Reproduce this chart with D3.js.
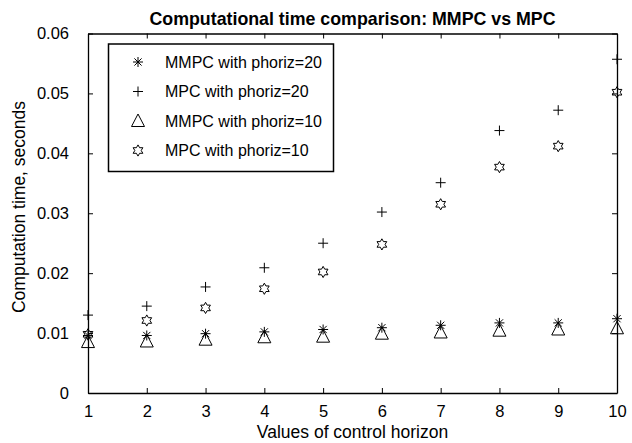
<!DOCTYPE html>
<html>
<head>
<meta charset="utf-8">
<script src="https://cdn.jsdelivr.net/npm/d3@7"></script>
<style>
  html, body { margin: 0; padding: 0; background: #fff; }
  svg { display: block; font-family: "Liberation Sans", Arial, Helvetica, sans-serif; }
</style>
</head>
<body>
<svg id="chart" width="632" height="443"></svg>
<script>
// ---- data ----
const horizons = [1, 2, 3, 4, 5, 6, 7, 8, 9, 10];
const mmpc20 = [0.0096, 0.0096, 0.0099, 0.0102, 0.0106, 0.0109, 0.0113, 0.0117, 0.0117, 0.0124];
const mpc20  = [0.0130, 0.0145, 0.0177, 0.0209, 0.0250, 0.0302, 0.0351, 0.0438, 0.0472, 0.0557];
const mmpc10 = [0.0085, 0.0086, 0.0089, 0.0093, 0.0094, 0.0099, 0.0101, 0.0104, 0.0106, 0.0108];
const mpc10  = [0.0098, 0.0121, 0.0142, 0.0174, 0.0202, 0.0248, 0.0315, 0.0377, 0.0412, 0.0502];
const yTicks = [0, 0.01, 0.02, 0.03, 0.04, 0.05, 0.06];
const yTickLabels = ["0", "0.01", "0.02", "0.03", "0.04", "0.05", "0.06"];
const seriesNames = ["MMPC with phoriz=20", "MPC with phoriz=20", "MMPC with phoriz=10", "MPC with phoriz=10"];
const seriesMarkers = ["asterisk", "plus", "triangle", "hexagram"];
const titleText = "Computational time comparison: MMPC vs MPC";
const xLabelText = "Values of control horizon";
const yLabelText = "Computation time, seconds";

// ---- layout ----
const svg = d3.select("#chart");
const L = 88, R = 617, T = 33.5, B = 393;
const x = d3.scaleLinear().domain([1, 10]).range([L, R]);
const y = d3.scaleLinear().domain([0, 0.06]).range([B, T]);
const tickLen = 5;

// marker paths
function markerPath(type) {
  const p = d3.path();
  if (type === "plus") {
    p.moveTo(-5, 0); p.lineTo(5, 0); p.moveTo(0, -5); p.lineTo(0, 5);
  } else if (type === "asterisk") {
    const r = 5, d = 3.6;
    p.moveTo(-r, 0); p.lineTo(r, 0); p.moveTo(0, -r); p.lineTo(0, r);
    p.moveTo(-d, -d); p.lineTo(d, d); p.moveTo(-d, d); p.lineTo(d, -d);
  } else if (type === "triangle") {
    p.moveTo(0, -7); p.lineTo(6.5, 5.5); p.lineTo(-6.5, 5.5); p.closePath();
  } else if (type === "hexagram") {
    const ro = 5.6, ri = 3.2;
    for (let i = 0; i < 12; i++) {
      const a = -Math.PI / 2 + i * Math.PI / 6;
      const r = i % 2 === 0 ? ro : ri;
      const px = r * Math.cos(a), py = r * Math.sin(a);
      if (i === 0) p.moveTo(px, py); else p.lineTo(px, py);
    }
    p.closePath();
  }
  return p.toString();
}

// ---- axes ----
const fmt = (d) => yTickLabels[yTicks.indexOf(d)];

const xAxisB = d3.axisBottom(x).tickValues(horizons).tickSizeInner(-tickLen).tickSizeOuter(0).tickPadding(12).tickFormat(d3.format("d"));
const xAxisT = d3.axisTop(x).tickValues(horizons).tickSizeInner(-tickLen).tickSizeOuter(0).tickFormat("");
const yAxisL = d3.axisLeft(y).tickValues(yTicks).tickSizeInner(-tickLen).tickSizeOuter(0).tickPadding(19).tickFormat(fmt);
const yAxisR = d3.axisRight(y).tickValues(yTicks).tickSizeInner(-tickLen).tickSizeOuter(0).tickFormat("");

function styleAxis(g) {
  g.selectAll("path.domain").attr("stroke", "#000").attr("stroke-width", 1.3);
  g.selectAll(".tick line").attr("stroke", "#000").attr("stroke-width", 1);
  g.selectAll(".tick text").attr("fill", "#000").attr("font-size", 16.5)
    .attr("font-family", "'Liberation Sans', Arial, Helvetica, sans-serif");
}

svg.append("g").attr("transform", `translate(0,${B})`).call(xAxisB).call(styleAxis)
  .selectAll(".tick text").attr("dy", "0.71em");
svg.append("g").attr("transform", `translate(0,${T})`).call(xAxisT).call(styleAxis);
svg.append("g").attr("transform", `translate(${L},0)`).call(yAxisL).call(styleAxis);
svg.append("g").attr("transform", `translate(${R},0)`).call(yAxisR).call(styleAxis);

// ---- series ----
const allSeries = [mmpc20, mpc20, mmpc10, mpc10];
allSeries.forEach((vals, si) => {
  const path = markerPath(seriesMarkers[si]);
  svg.append("g").selectAll("path")
    .data(horizons.map((h, i) => ({ h, v: vals[i] })))
    .join("path")
    .attr("transform", d => `translate(${x(d.h)},${y(d.v)})`)
    .attr("d", path)
    .attr("fill", "none")
    .attr("stroke", "#000")
    .attr("stroke-width", 1);
});

// ---- legend ----
const lg = svg.append("g");
lg.append("rect").attr("x", 108.5).attr("y", 44).attr("width", 225).attr("height", 127.5)
  .attr("fill", "#fff").attr("stroke", "#000").attr("stroke-width", 1.5);
seriesNames.forEach((name, i) => {
  const cy = 62 + i * 29.5;
  lg.append("path").attr("transform", `translate(138,${cy})`).attr("d", markerPath(seriesMarkers[i]))
    .attr("fill", "none").attr("stroke", "#000").attr("stroke-width", 1);
  lg.append("text").attr("x", 165).attr("y", cy).attr("dy", "0.35em")
    .attr("font-size", 16).attr("fill", "#000").text(name);
});

// ---- labels ----
svg.append("text").attr("x", (L + R) / 2).attr("y", 25).attr("text-anchor", "middle")
  .attr("font-size", 17.8).attr("font-weight", "bold").attr("fill", "#000").text(titleText);
svg.append("text").attr("x", (L + R) / 2).attr("y", 438).attr("text-anchor", "middle")
  .attr("font-size", 17.5).attr("fill", "#000").text(xLabelText);
svg.append("text").attr("transform", `translate(25,207) rotate(-90)`).attr("text-anchor", "middle")
  .attr("font-size", 17.5).attr("fill", "#000").text(yLabelText);
</script>
</body>
</html>
